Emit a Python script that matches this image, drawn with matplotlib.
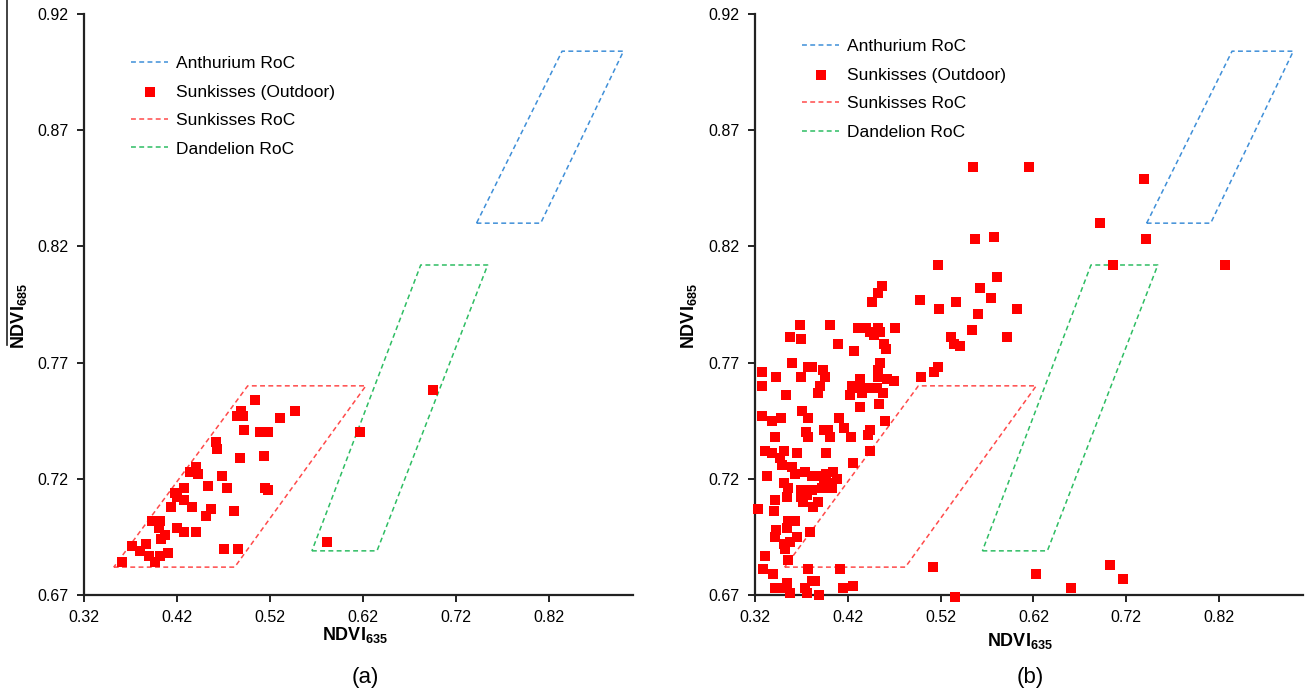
import matplotlib
matplotlib.use("Agg")
import matplotlib.pyplot as plt
from matplotlib.lines import Line2D

###################
## Data
###################
# regions of confidence (closed polygons)
anthurium_x = [0.742, 0.811, 0.900, 0.834, 0.742]
anthurium_y = [0.830, 0.830, 0.904, 0.904, 0.830]
sunkisses_x = [0.352, 0.482, 0.623, 0.496, 0.352]
sunkisses_y = [0.682, 0.682, 0.760, 0.760, 0.682]
dandelion_x = [0.565, 0.635, 0.754, 0.682, 0.565]
dandelion_y = [0.689, 0.689, 0.812, 0.812, 0.689]

# (a) sunkisses outdoor samples
left_x = [0.504, 0.489, 0.485, 0.491, 0.547, 0.531, 0.492, 0.509, 0.518, 0.462,
          0.463, 0.488, 0.514, 0.434, 0.440, 0.443, 0.468, 0.453, 0.474, 0.427,
          0.418, 0.420, 0.428, 0.414, 0.436, 0.515, 0.518, 0.457, 0.451, 0.481,
          0.393, 0.402, 0.401, 0.420, 0.428, 0.440, 0.407, 0.403, 0.372, 0.387,
          0.380, 0.390, 0.402, 0.410, 0.471, 0.486, 0.361, 0.396, 0.695, 0.617,
          0.581]
left_y = [0.754, 0.749, 0.747, 0.747, 0.749, 0.746, 0.741, 0.740, 0.740, 0.736,
          0.733, 0.729, 0.730, 0.723, 0.725, 0.722, 0.721, 0.717, 0.716, 0.716,
          0.714, 0.712, 0.711, 0.708, 0.708, 0.716, 0.715, 0.707, 0.704, 0.706,
          0.702, 0.702, 0.699, 0.699, 0.697, 0.697, 0.696, 0.694, 0.691, 0.692,
          0.689, 0.687, 0.687, 0.688, 0.690, 0.690, 0.684, 0.684, 0.758, 0.740,
          0.693]

# (b) sunkisses outdoor samples
right_x = [
  0.555, 0.615, 0.739, 0.692, 0.741, 0.706, 0.826, 0.557, 0.577, 0.517,
  0.581, 0.562, 0.574, 0.498, 0.518, 0.537, 0.560, 0.602, 0.554, 0.592,
  0.531, 0.534, 0.541, 0.517, 0.513, 0.499, 0.470, 0.471, 0.457, 0.452,
  0.446, 0.512, 0.536, 0.623, 0.661, 0.702, 0.716,
  0.368, 0.401, 0.358, 0.369, 0.409, 0.427,
  0.431, 0.440, 0.444, 0.452, 0.455, 0.448, 0.459, 0.461,
  0.360, 0.377, 0.381, 0.393, 0.395, 0.327, 0.343, 0.369, 0.327,
  0.390, 0.388, 0.353, 0.424, 0.422, 0.455, 0.452, 0.453, 0.462,
  0.433, 0.433, 0.444, 0.451, 0.458, 0.435, 0.433, 0.454, 0.460,
  0.444, 0.442, 0.328, 0.338, 0.348, 0.371, 0.377, 0.411, 0.416,
  0.375, 0.377, 0.394, 0.399, 0.401, 0.342, 0.423,
  0.331, 0.338, 0.351, 0.347, 0.349, 0.365, 0.397, 0.426, 0.444,
  0.360, 0.363, 0.374, 0.333,
  0.381, 0.390, 0.397, 0.404, 0.408, 0.399, 0.394, 0.403,
  0.351, 0.356, 0.354, 0.369, 0.374, 0.381, 0.370, 0.372, 0.376,
  0.392, 0.388, 0.383, 0.342, 0.340, 0.323,
  0.356, 0.363, 0.354, 0.343, 0.342, 0.379, 0.365, 0.358, 0.351, 0.352,
  0.331, 0.356, 0.329, 0.339, 0.377, 0.412,
  0.342, 0.347, 0.354, 0.358, 0.374, 0.381, 0.385, 0.376, 0.389, 0.415, 0.426,
]
right_y = [
  0.854, 0.854, 0.849, 0.830, 0.823, 0.812, 0.812, 0.823, 0.824, 0.812,
  0.807, 0.802, 0.798, 0.797, 0.793, 0.796, 0.791, 0.793, 0.784, 0.781,
  0.781, 0.778, 0.777, 0.768, 0.766, 0.764, 0.762, 0.785, 0.803, 0.800,
  0.796, 0.682, 0.669, 0.679, 0.673, 0.683, 0.677,
  0.786, 0.786, 0.781, 0.780, 0.778, 0.775,
  0.785, 0.785, 0.783, 0.785, 0.783, 0.782, 0.778, 0.776,
  0.770, 0.768, 0.768, 0.767, 0.764, 0.766, 0.764, 0.764, 0.760,
  0.760, 0.757, 0.756, 0.760, 0.756, 0.770, 0.767, 0.764, 0.763,
  0.763, 0.759, 0.759, 0.759, 0.757, 0.757, 0.751, 0.752, 0.745,
  0.741, 0.739, 0.747, 0.745, 0.746, 0.749, 0.746, 0.746, 0.742,
  0.740, 0.738, 0.741, 0.741, 0.738, 0.738, 0.738,
  0.732, 0.731, 0.732, 0.729, 0.726, 0.731, 0.731, 0.727, 0.732,
  0.725, 0.722, 0.723, 0.721,
  0.721, 0.721, 0.722, 0.723, 0.720, 0.718, 0.719, 0.716,
  0.718, 0.716, 0.712, 0.715, 0.715, 0.715, 0.712, 0.710, 0.713,
  0.716, 0.710, 0.708, 0.711, 0.706, 0.707,
  0.702, 0.702, 0.699, 0.698, 0.695, 0.697, 0.695, 0.693, 0.692, 0.690,
  0.687, 0.685, 0.681, 0.679, 0.681, 0.681,
  0.673, 0.673, 0.675, 0.671, 0.673, 0.676, 0.676, 0.671, 0.670, 0.673, 0.674,
]

x_ticks = [0.32, 0.42, 0.52, 0.62, 0.72, 0.82]
y_ticks = [0.67, 0.72, 0.77, 0.82, 0.87, 0.92]

BLUE = "#3f8fd8"
RED_LINE = "#ff4a4a"
GREEN = "#2ebd63"
RED = "#ff0000"

plt.rcParams["font.family"] = ["Liberation Sans", "DejaVu Sans"]
plt.rcParams["mathtext.fontset"] = "custom"
plt.rcParams["mathtext.bf"] = "Liberation Sans:bold"
plt.rcParams["mathtext.rm"] = "Liberation Sans"


def draw_panel(ax, xs, ys, legend_anchor, ylabel_x, xlabel_pos):
  dash = dict(linestyle=(0, (3.2, 2.2)), linewidth=1.1)
  ax.plot(anthurium_x, anthurium_y, color=BLUE, label="Anthurium RoC", **dash)
  ax.scatter(xs, ys, marker="s", s=52, color=RED, linewidths=0,
             zorder=3, clip_on=False, label="Sunkisses (Outdoor)")
  ax.plot(sunkisses_x, sunkisses_y, color=RED_LINE, label="Sunkisses RoC", **dash)
  ax.plot(dandelion_x, dandelion_y, color=GREEN, label="Dandelion RoC", **dash)

  ax.set_xlim(0.32, 0.91)
  ax.set_ylim(0.67, 0.92)
  ax.set_xticks(x_ticks)
  ax.set_yticks(y_ticks)
  ax.set_xticklabels([f"{t:.2f}" for t in x_ticks])
  ax.set_yticklabels([f"{t:.2f}" for t in y_ticks])
  for lbl in ax.get_xticklabels() + ax.get_yticklabels():
    lbl.set_fontsize(11.5)
  ax.tick_params(direction="out", length=5, width=1.4, color="#222222", pad=6)

  for side in ["top", "right"]:
    ax.spines[side].set_visible(False)
  for side in ["left", "bottom"]:
    ax.spines[side].set_linewidth(1.6)
    ax.spines[side].set_color("#222222")

  ax.set_xlabel(r"$\mathbf{NDVI_{635}}$", fontsize=13)
  ax.xaxis.set_label_coords(*xlabel_pos)
  ax.set_ylabel(r"$\mathbf{NDVI_{685}}$", fontsize=13)
  ax.yaxis.set_label_coords(ylabel_x, 0.48)

  ax.legend(loc="upper left", bbox_to_anchor=legend_anchor, frameon=False,
            fontsize=12.5, handlelength=2.15, handletextpad=0.45,
            labelspacing=0.77, borderpad=0, borderaxespad=0, scatterpoints=1)


def main():
  fig = plt.figure(figsize=(13.09, 6.93), dpi=100)
  ax_a = fig.add_axes([0.0642, 0.1414, 0.4192, 0.8384])
  ax_b = fig.add_axes([0.5768, 0.1414, 0.4183, 0.8384])

  draw_panel(ax_a, left_x, left_y, (0.0857, 0.928), -0.100, (0.494, -0.052))
  draw_panel(ax_b, right_x, right_y, (0.0858, 0.957), -0.102, (0.484, -0.062))

  fig.text(365 / 1309, 1 - 677 / 693, "(a)", ha="center", va="center", fontsize=16)
  fig.text(1030 / 1309, 1 - 677 / 693, "(b)", ha="center", va="center", fontsize=16)

  # stray rule beside the left y label
  fig.add_artist(Line2D([7 / 1309, 7 / 1309], [1.0, 1 - 345 / 693],
                        transform=fig.transFigure, color="#222222", linewidth=1.2))

  fig.savefig("out.png", dpi=100)
  plt.close(fig)


if __name__ == "__main__":
  main()
